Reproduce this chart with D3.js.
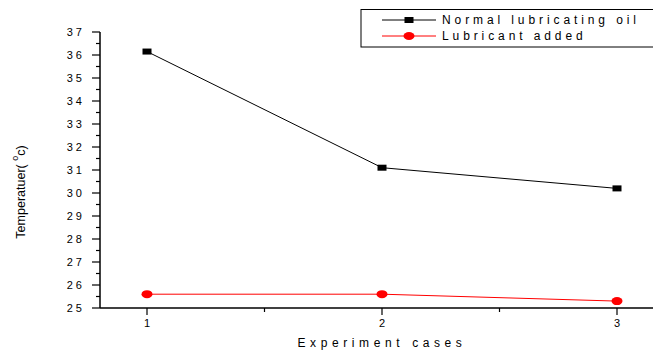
<!DOCTYPE html>
<html>
<head>
<meta charset="utf-8">
<script src="https://cdn.jsdelivr.net/npm/d3@7"></script>
<style>
  html, body { margin: 0; padding: 0; background: #fff; }
  svg { display: block; }
  text { font-family: "Liberation Sans", Arial, sans-serif; fill: #000; }
</style>
</head>
<body>
<div id="chart"></div>
<script>
// Experiment cases and measured temperatures (°C)
const cases = [1, 2, 3];
const normalOil = [36.15, 31.1, 30.2];
const lubricantAdded = [25.6, 25.6, 25.3];
const seriesNames = ["Normal lubricating oil", "Lubricant added"];
const yTicks = [25, 26, 27, 28, 29, 30, 31, 32, 33, 34, 35, 36, 37];
const xTicks = [1, 2, 3];

const W = 653, H = 356;
const svg = d3.select("#chart").append("svg").attr("width", W).attr("height", H);

const x = d3.scaleLinear().domain([0.8, 3.2]).range([100, 664]);
const y = d3.scaleLinear().domain([25, 37]).range([308, 32]);

// y axis: major ticks every 1, minor ticks at half steps
const yAxisG = svg.append("g").attr("transform", "translate(100,0)");
yAxisG.append("line").attr("x1", 0).attr("x2", 0).attr("y1", y(37)).attr("y2", y(25))
  .attr("stroke", "#000").attr("stroke-width", 1.5);
yTicks.forEach(t => {
  yAxisG.append("line").attr("x1", -8).attr("x2", 0).attr("y1", y(t)).attr("y2", y(t))
    .attr("stroke", "#000").attr("stroke-width", 1.2);
  yAxisG.append("text").attr("x", -15).attr("y", y(t)).attr("dy", "0.35em")
    .attr("text-anchor", "end").attr("font-size", 11).attr("letter-spacing", 3)
    .text(t);
});
d3.range(25.5, 37, 1).forEach(t => {
  yAxisG.append("line").attr("x1", -4).attr("x2", 0).attr("y1", y(t)).attr("y2", y(t))
    .attr("stroke", "#000").attr("stroke-width", 1.2);
});

// x axis
const xAxisG = svg.append("g").attr("transform", `translate(0,${y(25)})`);
xAxisG.append("line").attr("x1", 100).attr("x2", W).attr("y1", 0).attr("y2", 0)
  .attr("stroke", "#000").attr("stroke-width", 1.5);
xTicks.forEach(t => {
  xAxisG.append("line").attr("x1", x(t)).attr("x2", x(t)).attr("y1", 0).attr("y2", 7)
    .attr("stroke", "#000").attr("stroke-width", 1.2);
  xAxisG.append("text").attr("x", x(t)).attr("y", 19)
    .attr("text-anchor", "middle").attr("font-size", 11).text(t);
});
[1.5, 2.5].forEach(t => {
  xAxisG.append("line").attr("x1", x(t)).attr("x2", x(t)).attr("y1", 0).attr("y2", 4)
    .attr("stroke", "#000").attr("stroke-width", 1.2);
});

// axis titles
svg.append("text").attr("x", x(2)).attr("y", 347).attr("text-anchor", "middle")
  .attr("font-size", 12).attr("letter-spacing", 4.6).text("Experiment cases");

const yTitle = svg.append("text")
  .attr("transform", "translate(25,192) rotate(-90)")
  .attr("text-anchor", "middle").attr("font-size", 12.5);
yTitle.append("tspan").text("Temperatuer( ");
yTitle.append("tspan").attr("dy", -7).attr("font-size", 9).text("o");
yTitle.append("tspan").attr("dy", 7).text("c)");

// series lines and markers
const line = d3.line().x((d, i) => x(cases[i])).y(d => y(d));

svg.append("path").datum(normalOil).attr("d", line)
  .attr("fill", "none").attr("stroke", "#000").attr("stroke-width", 1);
svg.append("path").datum(lubricantAdded).attr("d", line)
  .attr("fill", "none").attr("stroke", "#ff0000").attr("stroke-width", 1);

svg.selectAll(".sq").data(normalOil).enter().append("rect")
  .attr("x", (d, i) => x(cases[i]) - 4.5).attr("y", d => y(d) - 3)
  .attr("width", 9).attr("height", 6).attr("fill", "#000");
svg.selectAll(".dot").data(lubricantAdded).enter().append("ellipse")
  .attr("cx", (d, i) => x(cases[i])).attr("cy", d => y(d))
  .attr("rx", 5.5).attr("ry", 4).attr("fill", "#ff0000");

// legend
const lg = svg.append("g");
lg.append("rect").attr("x", 361).attr("y", 9.5).attr("width", 310).attr("height", 37.5)
  .attr("fill", "#fff").attr("stroke", "#000").attr("stroke-width", 1);
const legendRows = [
  { name: seriesNames[0], color: "#000", marker: "rect", ly: 20 },
  { name: seriesNames[1], color: "#ff0000", marker: "ellipse", ly: 36 }
];
legendRows.forEach(r => {
  lg.append("line").attr("x1", 382).attr("x2", 436).attr("y1", r.ly).attr("y2", r.ly)
    .attr("stroke", r.color).attr("stroke-width", 1);
  if (r.marker === "rect") {
    lg.append("rect").attr("x", 404.5).attr("y", r.ly - 3).attr("width", 9).attr("height", 6)
      .attr("fill", r.color);
  } else {
    lg.append("ellipse").attr("cx", 409).attr("cy", r.ly).attr("rx", 5.5).attr("ry", 4)
      .attr("fill", r.color);
  }
  lg.append("text").attr("x", 442).attr("y", r.ly).attr("dy", "0.35em")
    .attr("font-size", 12).attr("letter-spacing", 3.9).text(r.name);
});
</script>
</body>
</html>
